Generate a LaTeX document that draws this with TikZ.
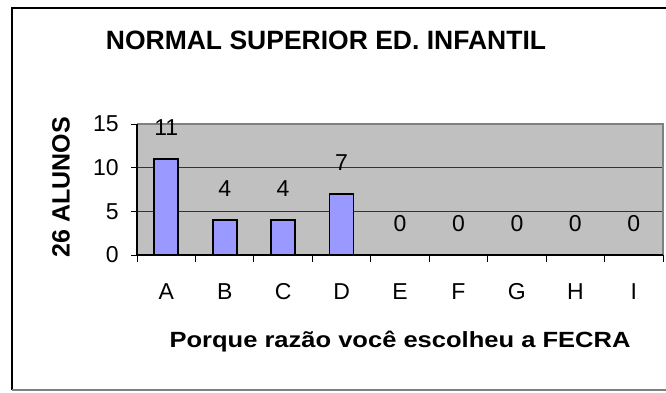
\documentclass[tikz,border=0pt]{standalone}
\usepackage{fontspec}
\setmainfont{Liberation Sans}
\definecolor{plotgray}{RGB}{192,192,192}
\definecolor{edgegray}{RGB}{128,128,128}
\definecolor{barblue}{RGB}{153,153,255}

\begin{document}
\begin{tikzpicture}[x=1pt,y=-1pt,thick,
  bar/.style={draw=black,fill=barblue,line width=1.6pt},
  labeltext/.style={font=\fontsize{23}{25}\selectfont,inner sep=0pt},
  ticklabel/.style={labeltext,anchor=east}]
\useasboundingbox (0,0) rectangle (666,392);

% frame
\draw[line width=1.8pt] (672,8) -- (12,8) -- (12,390);
\draw[edgegray,line width=1.2pt] (12,390) -- (672,390);

\node[font=\bfseries\fontsize{26.5}{28}\selectfont] (title) at (326,40) {NORMAL SUPERIOR ED. INFANTIL};

% plot area
\fill[plotgray] (137,124) rectangle (663,255);
\draw[line width=1pt,black!80] (137,167.7) -- (663,167.7);
\draw[line width=1pt,black!80] (137,211.3) -- (663,211.3);
\draw[edgegray,line width=1.5pt] (137,124) -- (663,124) -- (663,255);

\coordinate (origin) at (137,255);
\coordinate (ytop) at (137,124);
\coordinate (xend) at (663,255);
\draw[line width=1.2pt] (ytop) -- (origin) -- (xend);

% y ticks
\draw[line width=1pt] (131,124) -- (137,124);
\draw[line width=1pt] (131,167.7) -- (137,167.7);
\draw[line width=1pt] (131,211.3) -- (137,211.3);
\draw[line width=1pt] (131,255) -- (137,255);
\node[ticklabel] (y15) at (119,124) {15};
\node[ticklabel] (y10) at (119,167.7) {10};
\node[ticklabel] (y5) at (119,211.3) {5};
\node[ticklabel] (y0) at (119,255) {0};

% x ticks
\draw[line width=1pt] (137,255) -- (137,262);
\draw[line width=1pt] (195.4,255) -- (195.4,262);
\draw[line width=1pt] (253.9,255) -- (253.9,262);
\draw[line width=1pt] (312.3,255) -- (312.3,262);
\draw[line width=1pt] (370.8,255) -- (370.8,262);
\draw[line width=1pt] (429.2,255) -- (429.2,262);
\draw[line width=1pt] (487.7,255) -- (487.7,262);
\draw[line width=1pt] (546.1,255) -- (546.1,262);
\draw[line width=1pt] (604.6,255) -- (604.6,262);
\draw[line width=1pt] (663,255) -- (663,262);

% bars
\filldraw[bar] (154.2,255) rectangle (178.2,158.9);
\filldraw[bar] (212.7,255) rectangle (236.7,220.1);
\filldraw[bar] (271.1,255) rectangle (295.1,220.1);
\filldraw[bar] (329.6,255) rectangle (353.6,193.9);

% values
\node[labeltext] (vA) at (166.2,128) {11};
\node[labeltext] (vB) at (224.7,189) {4};
\node[labeltext] (vC) at (283.1,189) {4};
\node[labeltext] (vD) at (341.6,163) {7};
\node[labeltext] (vE) at (400,224) {0};
\node[labeltext] (vF) at (458.4,224) {0};
\node[labeltext] (vG) at (516.9,224) {0};
\node[labeltext] (vH) at (575.3,224) {0};
\node[labeltext] (vI) at (633.8,224) {0};

% categories
\node[labeltext] (cA) at (166.2,292) {A};
\node[labeltext] (cB) at (224.7,292) {B};
\node[labeltext] (cC) at (283.1,292) {C};
\node[labeltext] (cD) at (341.6,292) {D};
\node[labeltext] (cE) at (400,292) {E};
\node[labeltext] (cF) at (458.4,292) {F};
\node[labeltext] (cG) at (516.9,292) {G};
\node[labeltext] (cH) at (575.3,292) {H};
\node[labeltext] (cI) at (633.8,292) {I};

% axis titles
\node[font=\bfseries\fontsize{22}{24}\selectfont] (xtitle) at (400,342) {\scalebox{1.16}[1]{Porque razão você escolheu a FECRA}};
\node[font=\bfseries\fontsize{25}{27}\selectfont,rotate=90] (ytitle) at (61,187) {26 ALUNOS};

\end{tikzpicture}
\end{document}
